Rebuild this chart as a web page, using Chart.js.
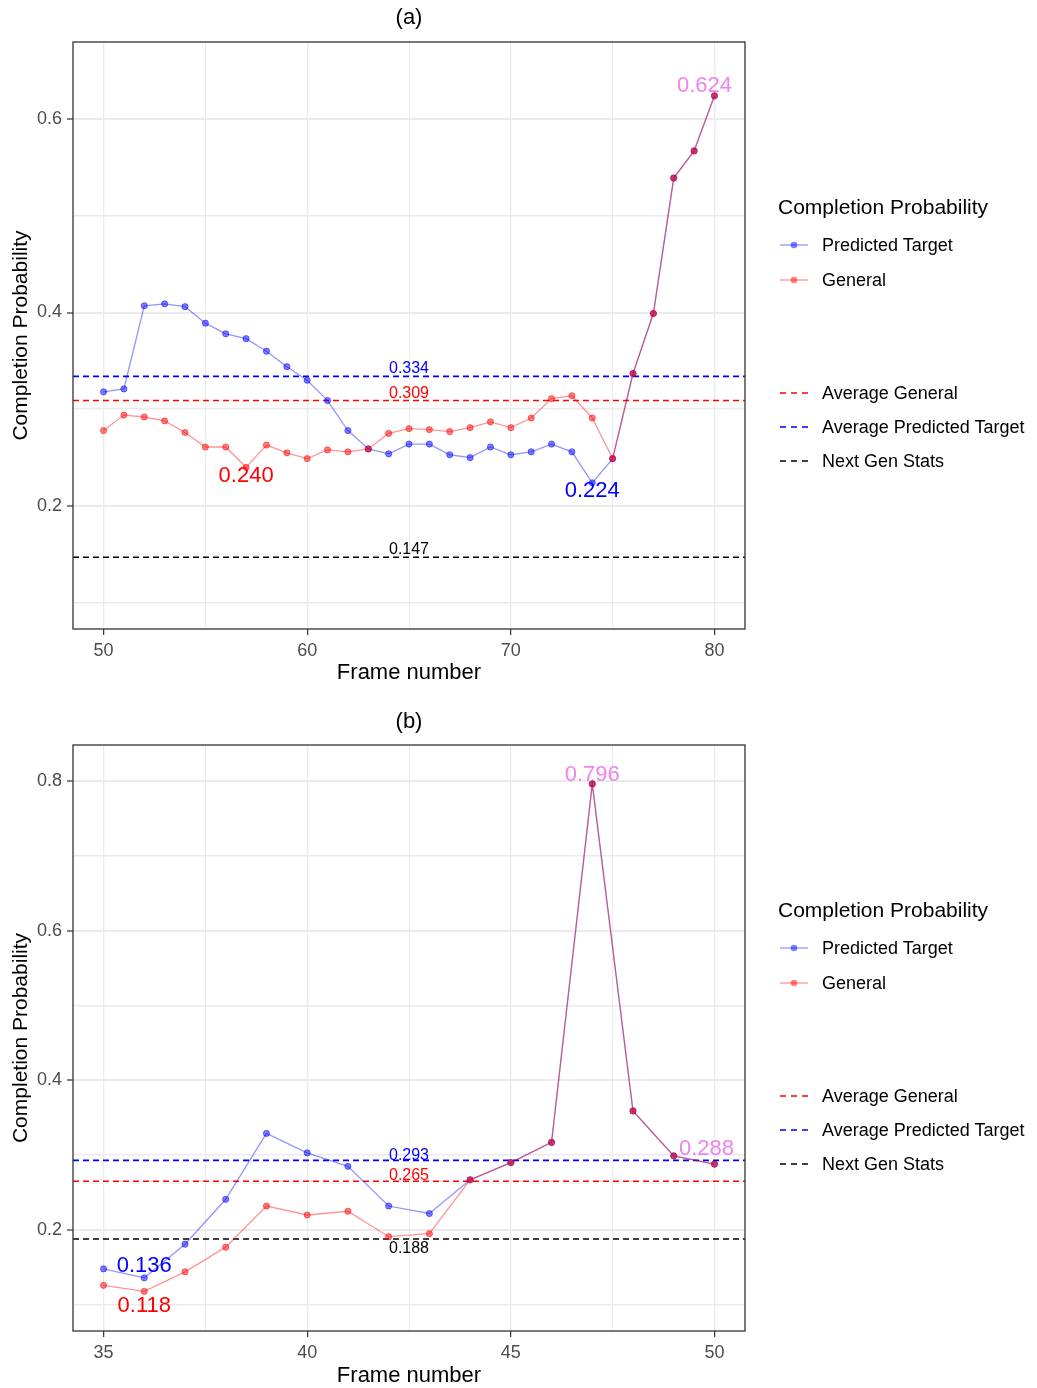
<!DOCTYPE html>
<html>
<head>
<meta charset="utf-8">
<script src="https://cdn.jsdelivr.net/npm/chart.js@4.4.1/dist/chart.umd.min.js"></script>
<style>
  body { margin: 0; background: #fff; font-family: "Liberation Sans", Arial, sans-serif; }
  #page { position: relative; width: 1037px; height: 1388px; overflow: hidden; }
  .panel { position: absolute; left: 0; width: 1037px; height: 694px; }
  .lg { position: absolute; white-space: nowrap; color: #000; }
  .lg-title { font-size: 21px; line-height: 25px; }
  .lg-item { font-size: 18px; line-height: 22px; }
  .lg svg { position: absolute; }
</style>
</head>
<body>
<div id="page">
  <div class="panel" style="top:0"><canvas id="chartA"></canvas></div>
  <div class="panel" style="top:694px"><canvas id="chartB"></canvas></div>
</div>
<script>
// panel (a)
const framesA = [50,51,52,53,54,55,56,57,58,59,60,61,62,63,64,65,66,67,68,69,70,71,72,73,74,75,76,77,78,79,80];
const predictedA = [0.318,0.321,0.407,0.409,0.406,0.389,0.378,0.373,0.360,0.344,0.330,0.309,0.278,0.259,0.254,0.264,
                    0.264,0.253,0.250,0.261,0.253,0.256,0.264,0.256,0.224,0.249,0.337,0.399,0.539,0.567,0.624];
const generalA = [0.278,0.294,0.292,0.288,0.276,0.261,0.261,0.240,0.263,0.255,0.249,0.258,0.256,0.259,0.275,0.280,
                  0.279,0.277,0.281,0.287,0.281,0.291,0.311,0.314,0.291,0.249,0.337,0.399,0.539,0.567,0.624];
const avgGeneralA = 0.309;
const avgPredictedA = 0.334;
const nextGenA = 0.147;
const xMajorA = [50,60,70,80];
const xMinorA = [55,65,75];
const yMajorA = [0.2,0.4,0.6];
const yMinorA = [0.1,0.3,0.5];

// panel (b)
const framesB = [35,36,37,38,39,40,41,42,43,44,45,46,47,48,49,50];
const predictedB = [0.148,0.136,0.181,0.241,0.329,0.303,0.285,0.232,0.222,0.267,0.290,0.317,0.796,0.359,0.299,0.288];
const generalB = [0.126,0.118,0.144,0.177,0.232,0.220,0.225,0.191,0.195,0.267,0.290,0.317,0.796,0.359,0.299,0.288];
const avgGeneralB = 0.265;
const avgPredictedB = 0.293;
const nextGenB = 0.188;
const xMajorB = [35,40,45,50];
const xMinorB = [37.5,42.5,47.5];
const yMajorB = [0.2,0.4,0.6,0.8];
const yMinorB = [0.1,0.3,0.5,0.7];

const seriesNames = ['Predicted Target', 'General'];
const refNames = ['Average General', 'Average Predicted Target', 'Next Gen Stats'];

const FONT = "'Liberation Sans', Arial, sans-serif";
Chart.defaults.font.family = FONT;

const BLUE_LINE = 'rgba(0,0,255,0.42)', BLUE_PT = 'rgba(0,0,255,0.5)';
const RED_LINE = 'rgba(255,0,0,0.42)', RED_PT = 'rgba(255,0,0,0.5)';

const panelDeco = {
  id: 'panelDeco',
  afterDraw(chart, args, opts) {
    const {ctx, chartArea: a, scales: {x, y}} = chart;
    ctx.save();
    // panel border
    ctx.strokeStyle = '#333333';
    ctx.lineWidth = 1.3;
    ctx.strokeRect(a.left, a.top, a.right - a.left, a.bottom - a.top);
    ctx.textAlign = 'center';
    ctx.textBaseline = 'middle';
    // reference line labels
    ctx.font = '16px ' + FONT;
    opts.refLabels.forEach(r => {
      ctx.fillStyle = r.color;
      ctx.fillText(r.value.toFixed(3), x.getPixelForValue(opts.refX), y.getPixelForValue(r.value) + r.dy);
    });
    // point value labels
    ctx.font = '22px ' + FONT;
    opts.pointLabels.forEach(p => {
      const i = opts.frames.indexOf(p.frame);
      const v = p.series[i];
      ctx.fillStyle = p.color;
      ctx.fillText(v.toFixed(3), x.getPixelForValue(p.frame) + p.dx, y.getPixelForValue(v) + p.dy);
    });
    ctx.restore();
  }
};

function hline(label, value, color, xMin, xMax) {
  return {
    label, data: [{x: xMin, y: value}, {x: xMax, y: value}],
    borderColor: color, borderWidth: 1.6, borderDash: [6, 4], pointRadius: 0, fill: false
  };
}

function makePanel(id, p) {
  const pts = arr => p.frames.map((f, i) => ({x: f, y: arr[i]}));
  const xTicks = p.xMajor.concat(p.xMinor).sort((a, b) => a - b);
  const yTicks = p.yMajor.concat(p.yMinor).sort((a, b) => a - b);
  const isMajor = (list, v) => list.some(m => Math.abs(m - v) < 1e-9);

  new Chart(document.getElementById(id), {
    type: 'line',
    data: {
      datasets: [
        {label: seriesNames[1], data: pts(p.general), borderColor: RED_LINE, borderWidth: 1.3,
         pointBackgroundColor: RED_PT, pointBorderColor: RED_PT, pointRadius: 3.1, pointBorderWidth: 1, tension: 0},
        {label: seriesNames[0], data: pts(p.predicted), borderColor: BLUE_LINE, borderWidth: 1.3,
         pointBackgroundColor: BLUE_PT, pointBorderColor: BLUE_PT, pointRadius: 3.1, pointBorderWidth: 1, tension: 0},
        hline(refNames[0], p.avgGeneral, '#FF0000', p.xMin, p.xMax),
        hline(refNames[1], p.avgPredicted, '#0000FF', p.xMin, p.xMax),
        hline(refNames[2], p.nextGen, '#000000', p.xMin, p.xMax)
      ]
    },
    options: {
      responsive: true,
      maintainAspectRatio: false,
      animation: false,
      layout: {padding: {left: 0, right: 292, top: 0, bottom: 0}},
      plugins: {
        legend: {display: false},
        tooltip: {enabled: false},
        title: {display: true, text: p.title, fullSize: false, color: '#000',
                font: {size: 22, weight: 'normal', lineHeight: 1},
                padding: {top: p.titlePadTop, bottom: p.titlePadBottom}},
        panelDeco: {
          frames: p.frames, refX: p.refX,
          refLabels: [
            {value: p.avgPredicted, color: '#0000FF', dy: p.refDy[0]},
            {value: p.avgGeneral, color: '#FF0000', dy: p.refDy[1]},
            {value: p.nextGen, color: '#000000', dy: p.refDy[2]}
          ],
          pointLabels: p.pointLabels
        }
      },
      scales: {
        x: {
          type: 'linear', min: p.xMin, max: p.xMax,
          afterBuildTicks: s => { s.ticks = xTicks.map(v => ({value: v})); },
          afterFit: s => { s.height = p.xAxisHeight; },
          ticks: {callback: v => isMajor(p.xMajor, v) ? String(v) : '', autoSkip: false, maxRotation: 0,
                  color: '#4D4D4D', font: {size: 18}, padding: 5},
          grid: {color: '#EBEBEB', lineWidth: c => isMajor(p.xMajor, c.tick.value) ? 1.3 : 1.0,
                 drawTicks: true, tickLength: 6, tickWidth: 1.2,
                 tickColor: c => isMajor(p.xMajor, c.tick.value) ? '#333333' : 'rgba(0,0,0,0)'},
          border: {display: false},
          title: {display: true, text: 'Frame number', color: '#000', font: {size: 22, lineHeight: 1},
                  padding: {top: 0, bottom: p.xTitlePad}}
        },
        y: {
          type: 'linear', min: p.yMin, max: p.yMax,
          afterBuildTicks: s => { s.ticks = yTicks.map(v => ({value: v})); },
          afterFit: s => { s.width = 73; },
          ticks: {callback: v => isMajor(p.yMajor, v) ? v.toFixed(1) : '', autoSkip: false,
                  color: '#4D4D4D', font: {size: 18}, padding: 5},
          grid: {color: '#EBEBEB', lineWidth: c => isMajor(p.yMajor, c.tick.value) ? 2.0 : 1.6,
                 drawTicks: true, tickLength: 6, tickWidth: 1.2,
                 tickColor: c => isMajor(p.yMajor, c.tick.value) ? '#333333' : 'rgba(0,0,0,0)'},
          border: {display: false},
          title: {display: true, text: 'Completion Probability', color: '#000', font: {size: 21, lineHeight: 1},
                  padding: {top: 11, bottom: 0}}
        }
      }
    },
    plugins: [panelDeco]
  });
}

function makeLegend(top) {
  const page = document.getElementById('page');
  const add = (cls, text, y, left) => {
    const d = document.createElement('div');
    d.className = 'lg ' + cls;
    d.style.left = left + 'px';
    d.style.top = y + 'px';
    d.textContent = text;
    page.appendChild(d);
    return d;
  };
  const key = (y, color, dashed, dot) => {
    const svgNS = 'http://www.w3.org/2000/svg';
    const s = document.createElementNS(svgNS, 'svg');
    s.setAttribute('width', 30); s.setAttribute('height', 22);
    s.style.position = 'absolute'; s.style.left = '779px'; s.style.top = (y - 11) + 'px';
    const l = document.createElementNS(svgNS, 'line');
    l.setAttribute('x1', 1); l.setAttribute('x2', 29); l.setAttribute('y1', 11); l.setAttribute('y2', 11);
    l.setAttribute('stroke', color); l.setAttribute('stroke-width', dashed ? 1.6 : 1.3);
    if (dashed) l.setAttribute('stroke-dasharray', '6 5');
    s.appendChild(l);
    if (dot) {
      const c = document.createElementNS(svgNS, 'circle');
      c.setAttribute('cx', 15); c.setAttribute('cy', 11); c.setAttribute('r', 3.3);
      c.setAttribute('fill', dot);
      s.appendChild(c);
    }
    page.appendChild(s);
  };
  add('lg-title', 'Completion Probability', top + 194, 778);
  const solid = [[seriesNames[0], BLUE_LINE, BLUE_PT, 245], [seriesNames[1], RED_LINE, RED_PT, 280]];
  solid.forEach(([name, lc, pc, y]) => { key(top + y, lc, false, pc); add('lg-item', name, top + y - 11, 822); });
  const dashed = [[refNames[0], '#FF0000', 393], [refNames[1], '#0000FF', 427], [refNames[2], '#000000', 461]];
  dashed.forEach(([name, c, y]) => { key(top + y, c, true, null); add('lg-item', name, top + y - 11, 822); });
}

makePanel('chartA', {
  title: '(a)', frames: framesA, predicted: predictedA, general: generalA,
  avgGeneral: avgGeneralA, avgPredicted: avgPredictedA, nextGen: nextGenA,
  xMajor: xMajorA, xMinor: xMinorA, yMajor: yMajorA, yMinor: yMinorA,
  xMin: 48.5, xMax: 81.5, yMin: 0.0729, yMax: 0.6796,
  titlePadTop: 7, titlePadBottom: 13, xAxisHeight: 65, xTitlePad: 10,
  refX: 65, refDy: [-8, -7, -8],
  pointLabels: [
    {series: generalA, frame: 57, color: '#FF0000', dx: 0, dy: 9},
    {series: predictedA, frame: 74, color: '#0000FF', dx: 0, dy: 8.5},
    {series: predictedA, frame: 80, color: '#EE82EE', dx: -10, dy: -10}
  ]
});

makePanel('chartB', {
  title: '(b)', frames: framesB, predicted: predictedB, general: generalB,
  avgGeneral: avgGeneralB, avgPredicted: avgPredictedB, nextGen: nextGenB,
  xMajor: xMajorB, xMinor: xMinorB, yMajor: yMajorB, yMinor: yMinorB,
  xMin: 34.25, xMax: 50.75, yMin: 0.065, yMax: 0.848,
  titlePadTop: 17, titlePadBottom: 12, xAxisHeight: 57, xTitlePad: 1,
  refX: 42.5, refDy: [-4.5, -6, 10],
  pointLabels: [
    {series: predictedB, frame: 36, color: '#0000FF', dx: 0, dy: -12},
    {series: generalB, frame: 36, color: '#FF0000', dx: 0, dy: 15},
    {series: predictedB, frame: 47, color: '#EE82EE', dx: 0, dy: -8.5},
    {series: predictedB, frame: 50, color: '#EE82EE', dx: -8, dy: -15}
  ]
});

makeLegend(0);
makeLegend(703);
</script>
</body>
</html>
